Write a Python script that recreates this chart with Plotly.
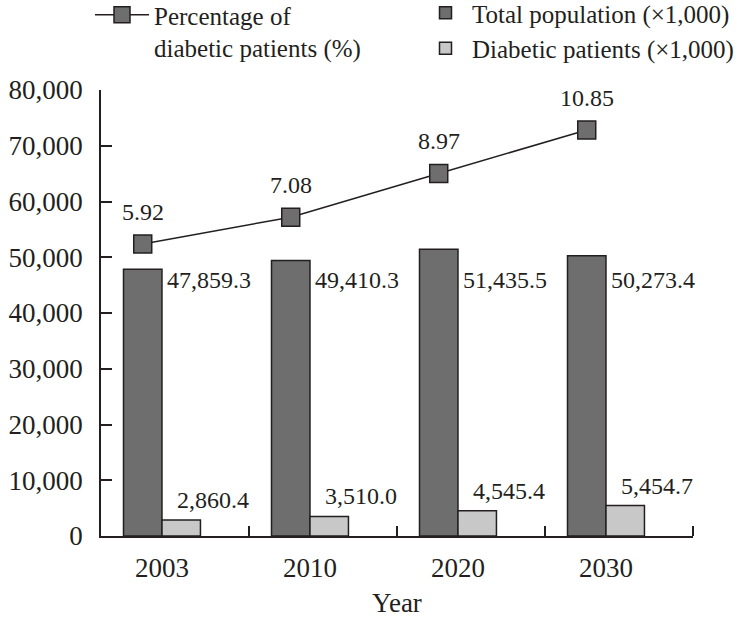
import numpy as np
import plotly.graph_objects as go

years = ["2003", "2010", "2020", "2030"]
total_pop = [47859.3, 49410.3, 51435.5, 50273.4]
diabetic = [2860.4, 3510.0, 4545.4, 5454.7]
pct = [5.92, 7.08, 8.97, 10.85]
total_labels = ["47,859.3", "49,410.3", "51,435.5", "50,273.4"]
diab_labels = ["2,860.4", "3,510.0", "4,545.4", "5,454.7"]
pct_labels = ["5.92", "7.08", "8.97", "10.85"]
y_ticks = [0, 10000, 20000, 30000, 40000, 50000, 60000, 70000, 80000]
y_ticktext = ["0", "10,000", "20,000", "30,000", "40,000", "50,000", "60,000", "70,000", "80,000"]

FONT = "Liberation Serif"
INK = "#231f20"
DARK = "#6e6e6e"
LIGHT = "#c8c8c8"

idx = np.arange(len(years))
group_c = idx + 0.5 - 0.088
half_w = 0.13
dark_c = group_c - half_w
light_c = group_c + half_w

fig = go.Figure()
fig.add_trace(go.Bar(x=group_c, y=total_pop, name="Total population (\u00d71,000)",
                     marker=dict(color=DARK, line=dict(color=INK, width=1.5)),
                     legend="legend2"))
fig.add_trace(go.Bar(x=group_c, y=diabetic, name="Diabetic patients (\u00d71,000)",
                     marker=dict(color=LIGHT, line=dict(color=INK, width=1.5)),
                     legend="legend2"))
fig.add_trace(go.Scatter(x=dark_c, y=pct, yaxis="y2", mode="lines+markers",
                         name="Percentage of<br>diabetic patients (%)",
                         line=dict(color=INK, width=1.5),
                         marker=dict(symbol="square", size=18, color=DARK,
                                     line=dict(color=INK, width=1.5)),
                         legend="legend"))

ann = []
for i in range(len(years)):
    ann.append(dict(x=group_c[i], y=46000, xref="x", yref="y", text=total_labels[i],
                    xanchor="left", yanchor="middle", xshift=3, showarrow=False,
                    font=dict(family=FONT, size=24, color=INK)))
    ann.append(dict(x=light_c[i], y=diabetic[i], xref="x", yref="y", text=diab_labels[i],
                    xanchor="left", yanchor="bottom", xshift=-6, yshift=5, showarrow=False,
                    font=dict(family=FONT, size=24, color=INK)))
    ann.append(dict(x=dark_c[i], y=pct[i], xref="x", yref="y2", text=pct_labels[i],
                    xanchor="center", yanchor="bottom", yshift=17, showarrow=False,
                    font=dict(family=FONT, size=24, color=INK)))

fig.update_layout(
    width=750, height=622,
    margin=dict(l=101, r=57, t=90, b=86, autoexpand=False),
    paper_bgcolor="white", plot_bgcolor="white",
    font=dict(family=FONT, size=24, color=INK),
    barmode="group", bargap=0.48, bargroupgap=0,
    showlegend=True,
    legend=dict(x=-11 / 592, xanchor="left", y=1 + 98 / 446, yanchor="top",
                valign="top", itemwidth=54,
                font=dict(family=FONT, size=25, color=INK), bgcolor="rgba(0,0,0,0)",
                traceorder="normal"),
    legend2=dict(x=318 / 592, xanchor="left", y=1 + 100 / 446, yanchor="top", itemwidth=43,
                 font=dict(family=FONT, size=25, color=INK), bgcolor="rgba(0,0,0,0)",
                 traceorder="normal", tracegroupgap=0),
    xaxis=dict(range=[0, 4], tickmode="array", tickvals=group_c, ticktext=years,
               ticks="", showline=True, linecolor=INK, linewidth=1.5, showgrid=False,
               zeroline=False, ticklabelstandoff=7,
               tickfont=dict(family=FONT, size=27, color=INK),
               minor=dict(tickmode="array", tickvals=[1, 2, 3, 4], ticks="inside",
                          ticklen=10, tickwidth=1.5, tickcolor=INK, showgrid=False),
               title=dict(text="Year", standoff=11, font=dict(family=FONT, size=27, color=INK))),
    yaxis=dict(range=[0, 80000], tickmode="array", tickvals=y_ticks, ticktext=y_ticktext,
               ticks="inside", ticklen=11, tickwidth=1.5, tickcolor=INK,
               showline=True, linecolor=INK, linewidth=1.5, showgrid=False, zeroline=False,
               ticklabelstandoff=11, tickfont=dict(family=FONT, size=27, color=INK)),
    yaxis2=dict(range=[-6.708, 12.58], overlaying="y", side="right", visible=False,
                showgrid=False, zeroline=False),
    annotations=ann,
)

fig.write_html("out.html", config={"displayModeBar": False},
               post_script="document.body.style.margin='0';")
